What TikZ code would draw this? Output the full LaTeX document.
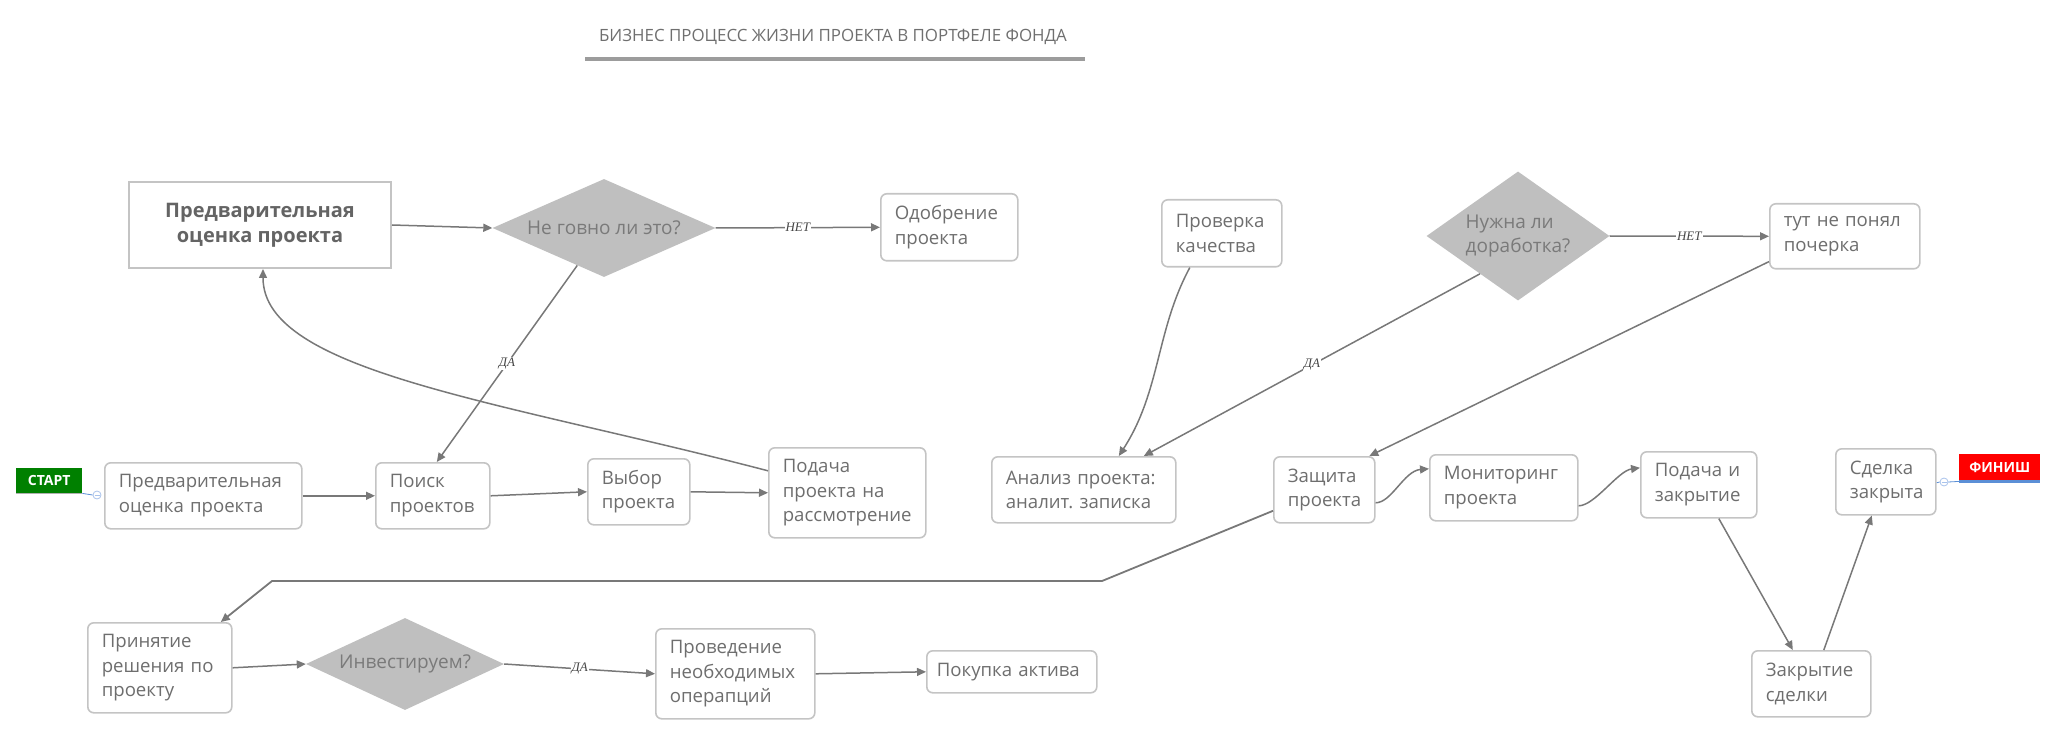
\documentclass[tikz,border=0pt]{standalone}
\usepackage{fontspec}
\setmainfont{Open Sans}
\newfontfamily\lblserif{Liberation Serif}
\usetikzlibrary{arrows.meta,shapes.geometric,calc}
\definecolor{bordergray}{HTML}{C4C4C4}
\definecolor{boxtext}{HTML}{6E6E6E}
\definecolor{bigtext}{HTML}{646464}
\definecolor{diafill}{HTML}{BFBFBF}
\definecolor{diatext}{HTML}{7A7A7A}
\definecolor{linegray}{HTML}{787878}
\definecolor{lbltext}{HTML}{474747}
\definecolor{titlegray}{HTML}{6F6F6F}
\definecolor{ulgray}{HTML}{9C9C9C}
\definecolor{startgreen}{HTML}{008000}
\definecolor{finishred}{HTML}{FF0000}
\definecolor{handleblue}{HTML}{5B8FD6}
\definecolor{handlelight}{HTML}{A9C3EC}
\newcommand\bxfont{\fontsize{18.6}{24.5}\selectfont}
\frenchspacing
\begin{document}
\begin{tikzpicture}[x=1pt,y=-1pt,
  pbox/.style={draw=bordergray, line width=1.6pt, rounded corners=6pt, fill=white,
    text=boxtext, font=\bxfont, align=left, inner xsep=14pt, inner ysep=0pt, anchor=north west},
  bigbox/.style={draw=bordergray, line width=2pt, fill=white, text=bigtext,
    font=\fontsize{20}{25}\selectfont\bfseries, align=center, inner sep=0pt, anchor=north west},
  dia/.style={shape=diamond, fill=diafill, draw=none, inner sep=0pt, text=diatext,
    font=\fontsize{19}{24}\selectfont},
  arr/.style={draw=linegray, line width=1.5pt, -{Triangle[length=9pt,width=8pt]}},
  lbl/.style={font=\lblserif\itshape\fontsize{13}{13}\selectfont, fill=white, inner sep=1pt, text=lbltext},
  tag/.style={text=white, font=\fontsize{12}{12}\selectfont\bfseries, inner sep=0pt, anchor=north west},
  tagtext/.style={text=white, font=\fontsize{14}{14}\selectfont\bfseries, inner sep=0pt},
  handle/.style={circle, draw=handlelight, fill=white, line width=0.8pt, minimum size=8pt, inner sep=0pt},
]
\useasboundingbox (0,0) rectangle (2058,735);

% title
\node[text=titlegray, font=\fontsize{16.9}{17}\selectfont] (title) at (833,37) {БИЗНЕС ПРОЦЕСС ЖИЗНИ ПРОЕКТА В ПОРТФЕЛЕ ФОНДА};
\draw[ulgray, line width=4pt] (585,59) -- (1085,59);

% top row
\node[bigbox, minimum width=262pt, minimum height=86pt] (big) at (128,181) {Предварительная\\оценка проекта};
\node[dia, minimum width=223pt, minimum height=98pt] (d1) at (604,228) {\makebox[0pt]{Не говно ли это?}};
\node[pbox, text width=109pt, minimum height=67pt] (odobr) at (880,193) {Одобрение\\проекта};

\node[pbox, text width=92pt, minimum height=67pt] (prov) at (1161,199) {Проверка\\качества};
\node[dia, minimum width=183pt, minimum height=129pt] (d2) at (1518,236) {\makebox[0pt]{\begin{tabular}{@{}l@{}}Нужна ли\\доработка?\end{tabular}}};
\node[pbox, text width=122pt, minimum height=65pt] (tut) at (1769,203) {тут не понял\\почерка};

% middle row
\node[tag, fill=startgreen, minimum width=66pt, minimum height=25pt] (start) at (16,468) {};
\node[tagtext] at (start.center) {СТАРТ};
\draw[bordergray!90!black, line width=1.5pt] (start.south west) -- (start.south east);
\node[handle] (starth) at (97,495) {};
\draw[handleblue, line width=0.8pt] (start.south east) -- (starth.west);
\draw[handlelight, line width=0.8pt] ($(starth.center)+(-2.5,0)$) -- ($(starth.center)+(2.5,0)$);

\node[pbox, text width=169pt, minimum height=66pt] (pre) at (104,462) {Предварительная\\оценка проекта};
\node[pbox, text width=86pt, minimum height=66pt] (poisk) at (375,462) {Поиск\\проектов};
\node[pbox, text width=74pt, minimum height=66pt] (vybor) at (587,458) {Выбор\\проекта};
\node[pbox, text width=129pt, minimum height=90pt] (podacha) at (768,447) {Подача\\проекта на\\рассмотрение};

\node[pbox, text width=156pt, minimum height=66pt] (analiz) at (991,456) {Анализ проекта:\\аналит. записка};
\node[pbox, text width=73pt, minimum height=66pt] (zashch) at (1273,456) {Защита\\проекта};
\node[pbox, text width=120pt, minimum height=66pt] (monit) at (1429,454) {Мониторинг\\проекта};
\node[pbox, text width=88pt, minimum height=66pt] (podzak) at (1640,451) {Подача и\\закрытие};
\node[pbox, text width=72pt, minimum height=66pt] (sdelka) at (1835,448) {Сделка\\закрыта};

\node[tag, fill=finishred, minimum width=81pt, minimum height=26pt] (finish) at (1959,454) {};
\node[tagtext] at (finish.center) {ФИНИШ};
\fill[handleblue] (finish.south west) rectangle ($(finish.south east)+(0,3)$);
\node[handle] (finh) at (1944,482) {};
\draw[handleblue, line width=0.8pt] ($(sdelka.east)+(0,1)$) -- (finh.west);
\draw[handleblue, line width=0.8pt] (finh.east) -- ($(finish.south west)+(0,1)$);
\draw[handlelight, line width=0.8pt] ($(finh.center)+(-2.5,0)$) -- ($(finh.center)+(2.5,0)$);

% bottom row
\node[pbox, text width=116pt, minimum height=90pt] (prin) at (87,622) {Принятие\\решения по\\проекту};
\node[dia, minimum width=198pt, minimum height=92pt] (d3) at (405,664) {\makebox[0pt]{Инвестируем?}};
\node[pbox, text width=131pt, minimum height=90pt] (proved) at (655,628) {Проведение\\необходимых\\операпций};
\node[pbox, text width=150pt, inner xsep=10pt, minimum height=42pt] (pokupka) at (926,650) {\mbox{Покупка актива}};
\node[pbox, text width=91pt, minimum height=66pt] (zakr) at (1751,650) {Закрытие\\сделки};

% connectors
\draw[arr] (big.east) -- (d1.west);
\draw[arr] (d1.east) -- node[lbl] {НЕТ} (odobr.west);
\draw[arr] (d1) -- node[lbl] {ДА} ($(poisk.north)+(4,0)$);
\draw[arr] (pre.east) -- (poisk.west);
\draw[arr] (poisk.east) -- (vybor.west);
\draw[arr] (vybor.east) -- (podacha.west);
\draw[arr] ($(podacha.west)+(0,-22)$) .. controls +(-268,-70) and +(0,103) .. ($(big.south)+(3,0)$);

\draw[arr] ($(prov.south)+(-32,0)$) .. controls +(-34,63) and +(42,-65) .. ($(analiz.north)+(35,0)$);
\draw[arr] ($(d2.west)!0.585!(d2.south)$) -- node[lbl] {ДА} ($(analiz.north)+(60,0)$);
\draw[arr] (d2.east) -- node[lbl] {НЕТ} (tut.west);
\draw[arr] ($(tut.south west)+(0,-8)$) -- ($(zashch.north)+(45,0)$);
\draw[arr] ($(zashch.east)+(0,13)$) .. controls +(16,0) and +(-25,2) .. ($(monit.west)+(0,-19)$);
\draw[arr] ($(monit.east)+(0,18)$) .. controls +(16,0) and +(-22,3) .. ($(podzak.west)+(0,-17)$);
\draw[arr] ($(podzak.south)+(20,0)$) -- ($(zakr.north)+(-18.5,0)$);
\draw[arr] ($(zakr.north)+(12.5,0)$) -- ($(sdelka.south)+(-14,0)$);

\coordinate (bendA) at (1102,581);
\coordinate (bendB) at (272,581);
\draw[arr, line width=1.8pt] ($(zashch.west)+(0,21)$) -- (bendA) -- (bendB) -- ($(prin.north)+(61,0)$);

\draw[arr] (prin.east) -- (d3.west);
\draw[arr] (d3.east) -- node[lbl] {ДА} (proved.west);
\draw[arr] (proved.east) -- (pokupka.west);
\end{tikzpicture}
\end{document}
